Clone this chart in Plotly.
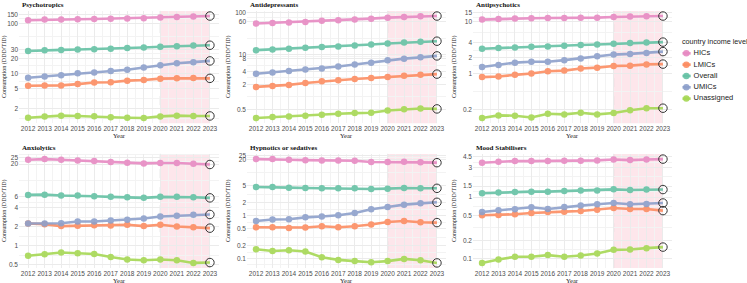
import math
import plotly.graph_objects as go

years = list(range(2012, 2024))
groups = ["HICs", "LMICs", "Overall", "UMICs", "Unassigned"]
colors = {"HICs": "#E78AC3", "LMICs": "#FC8D62", "Overall": "#66C2A5",
          "UMICs": "#8DA0CB", "Unassigned": "#A6D854"}

panel_titles = ["Psychotropics", "Antidepressants", "Antipsychotics",
                "Anxiolytics", "Hypnotics or sedatives", "Mood Stabilisers"]

psychotropics = {
    "HICs": [115, 118, 119, 120, 121, 123, 124, 126, 130, 133, 136, 139],
    "LMICs": [5.7, 5.75, 5.8, 6.15, 6.6, 6.7, 7.2, 7.4, 7.9, 8.0, 8.1, 8.0],
    "Overall": [28, 29, 29.5, 30, 30.5, 31, 32, 33, 34, 35, 36, 36.5],
    "UMICs": [8.2, 8.7, 9.2, 10.1, 10.5, 11.2, 11.9, 13.2, 14.6, 16.0, 16.8, 17.8],
    "Unassigned": [1.32, 1.4, 1.45, 1.43, 1.41, 1.35, 1.32, 1.3, 1.4, 1.45, 1.43, 1.43],
}
antidepressants = {
    "HICs": [55, 57, 58, 60, 64, 66, 68.5, 72, 76, 79, 82, 83],
    "LMICs": [1.73, 1.83, 1.93, 2.15, 2.35, 2.48, 2.67, 2.81, 2.97, 3.2, 3.38, 3.48],
    "Overall": [12.9, 13.4, 13.9, 14.6, 15.2, 15.7, 16.6, 17.5, 18.5, 19.5, 20.5, 21],
    "UMICs": [3.56, 3.82, 4.1, 4.5, 4.73, 5.27, 5.87, 6.5, 7.4, 8.1, 8.7, 9.4],
    "Unassigned": [0.316, 0.333, 0.344, 0.358, 0.378, 0.398, 0.414, 0.42, 0.477, 0.513, 0.53, 0.52],
}
antipsychotics = {
    "HICs": [11.0, 11.3, 11.5, 11.7, 11.8, 11.8, 12.0, 12.0, 12.4, 12.6, 12.8, 12.9],
    "LMICs": [0.845, 0.87, 0.935, 0.99, 1.1, 1.13, 1.24, 1.29, 1.39, 1.41, 1.49, 1.51],
    "Overall": [3.0, 3.1, 3.18, 3.28, 3.33, 3.43, 3.54, 3.63, 3.74, 3.86, 3.97, 4.03],
    "UMICs": [1.33, 1.45, 1.61, 1.68, 1.68, 1.8, 1.94, 2.15, 2.31, 2.38, 2.49, 2.64],
    "Unassigned": [0.136, 0.153, 0.151, 0.139, 0.165, 0.16, 0.172, 0.16, 0.17, 0.193, 0.211, 0.211],
}
anxiolytics = {
    "HICs": [23.4, 24.0, 23.4, 22.9, 22.4, 21.5, 21.0, 20.5, 20.8, 20.8, 20.2, 19.7],
    "LMICs": [2.26, 2.2, 2.05, 2.08, 2.12, 2.1, 2.15, 2.05, 2.15, 2.02, 1.97, 1.9],
    "Overall": [6.45, 6.5, 6.3, 6.3, 6.13, 6.0, 5.9, 5.78, 6.0, 6.0, 5.9, 5.78],
    "UMICs": [2.26, 2.26, 2.28, 2.43, 2.43, 2.52, 2.59, 2.71, 2.92, 2.99, 3.1, 3.14],
    "Unassigned": [0.69, 0.73, 0.775, 0.755, 0.735, 0.66, 0.6, 0.585, 0.6, 0.585, 0.53, 0.537],
}
hypnotics = {
    "HICs": [20.7, 20.7, 20.0, 19.6, 19.3, 19.3, 19.0, 17.7, 17.7, 18.0, 17.4, 17.1],
    "LMICs": [0.535, 0.535, 0.515, 0.526, 0.564, 0.535, 0.564, 0.618, 0.71, 0.75, 0.7, 0.687],
    "Overall": [4.62, 4.62, 4.48, 4.39, 4.32, 4.32, 4.32, 4.16, 4.24, 4.39, 4.32, 4.32],
    "UMICs": [0.75, 0.81, 0.82, 0.91, 0.95, 1.02, 1.15, 1.4, 1.58, 1.8, 1.93, 2.04],
    "Unassigned": [0.164, 0.15, 0.156, 0.146, 0.107, 0.093, 0.087, 0.082, 0.087, 0.098, 0.091, 0.079],
}
mood_stabilisers = {
    "HICs": [3.59, 3.72, 3.81, 3.81, 3.81, 3.86, 3.86, 3.91, 4.05, 3.95, 4.05, 4.1],
    "LMICs": [0.507, 0.513, 0.526, 0.552, 0.573, 0.58, 0.594, 0.625, 0.665, 0.64, 0.64, 0.603],
    "Overall": [1.15, 1.18, 1.2, 1.22, 1.22, 1.25, 1.27, 1.28, 1.33, 1.3, 1.32, 1.32],
    "UMICs": [0.573, 0.61, 0.634, 0.683, 0.64, 0.69, 0.726, 0.762, 0.8, 0.762, 0.771, 0.8],
    "Unassigned": [0.086, 0.098, 0.108, 0.108, 0.115, 0.108, 0.113, 0.122, 0.14, 0.142, 0.149, 0.155],
}

tick_sets = [
    [2, 5, 10, 20, 30, 100, 150],
    [0.5, 2, 4, 8, 10, 60, 100],
    [0.2, 1, 2, 4, 10, 15],
    [0.5, 1, 2, 4, 6, 20, 25],
    [0.1, 0.2, 0.5, 1, 2, 5, 20, 25],
    [0.1, 0.2, 0.5, 1, 1.5, 3, 4.5],
]
shade_start, shade_end = 2020, 2023

panels = [psychotropics, antidepressants, antipsychotics,
          anxiolytics, hypnotics, mood_stabilisers]

W, H = 747, 283
col_px = [(19, 219), (247, 446), (473, 672)]
ytitle_px = [4, 228, 454]
row_px = [(9, 122), (153, 268)]

fig = go.Figure()
sans = "Liberation Sans, Arial, sans-serif"
serif = "Liberation Serif, Times New Roman, serif"
grid = "#EBEBEB"
tickfont = dict(family=sans, size=6.5, color="#4D4D4D")

for i, (data, title, ticks) in enumerate(zip(panels, panel_titles, tick_sets)):
    r, c = divmod(i, 3)
    n = i + 1
    xa = "xaxis" if n == 1 else f"xaxis{n}"
    ya = "yaxis" if n == 1 else f"yaxis{n}"
    xr = "x" if n == 1 else f"x{n}"
    yr = "y" if n == 1 else f"y{n}"
    x0p, x1p = col_px[c]
    y0p, y1p = row_px[r]
    xdom = [x0p / W, x1p / W]
    ydom = [1 - y1p / H, 1 - y0p / H]

    allv = [v for g in groups for v in data[g]]
    lo, hi = math.log10(min(allv)), math.log10(max(allv))
    pad = (hi - lo) * 0.05
    yrange = [lo - pad, hi + pad]

    lt = [math.log10(t) for t in ticks]
    minor = [10 ** ((a + b) / 2) for a, b in zip(lt[:-1], lt[1:])]
    minor = [10 ** (lt[0] - (lt[1] - lt[0]) / 2)] + minor + [10 ** (lt[-1] + (lt[-1] - lt[-2]) / 2)]

    fig.add_shape(type="rect", xref=xr, yref=f"{yr} domain", x0=shade_start, x1=shade_end,
                  y0=0, y1=1, fillcolor="rgba(252,205,215,0.5)", line_width=0, layer="below")
    fig.add_shape(type="line", xref=xr, yref=f"{yr} domain", x0=shade_start, x1=shade_start,
                  y0=0, y1=1, line=dict(color="#C8C8C8", width=1, dash="dash"), layer="below")

    for g in groups:
        mcol = [colors[g]] * (len(years) - 1) + ["rgba(0,0,0,0)"]
        fig.add_trace(go.Scatter(
            x=years, y=data[g], mode="lines+markers", name=g,
            line=dict(color=colors[g], width=2.6), opacity=0.9,
            marker=dict(color=mcol, size=6.5),
            xaxis=xr, yaxis=yr, showlegend=False))
    fig.add_trace(go.Scatter(
        x=[years[-1]] * len(groups), y=[data[g][-1] for g in groups], mode="markers",
        marker=dict(symbol="circle-open", size=8.5, color="#333333", line=dict(width=1)),
        xaxis=xr, yaxis=yr, showlegend=False, hoverinfo="skip"))

    fig.layout[xa] = dict(domain=xdom, anchor=yr, range=[2011.45, 2023.55],
                          tickvals=years, ticktext=[str(y) for y in years], tickangle=0,
                          tickfont=tickfont,
                          showgrid=True, gridcolor=grid, gridwidth=0.8, zeroline=False,
                          showline=False, ticks="", ticklen=0,
                          minor=dict(tickvals=[y + 0.5 for y in range(2011, 2024)],
                                     showgrid=True, gridcolor="#F3F3F3", gridwidth=0.5))
    fig.layout[ya] = dict(domain=ydom, anchor=xr, type="log", range=yrange,
                          tickvals=ticks, ticktext=[f"{t:g}" for t in ticks],
                          tickfont=tickfont,
                          showgrid=True, gridcolor=grid, gridwidth=0.8, zeroline=False,
                          showline=False, ticks="", ticklen=0,
                          minor=dict(tickvals=minor, showgrid=True, gridcolor="#F3F3F3", gridwidth=0.5))

    fig.add_annotation(text=f"<b>{title}</b>", xref="paper", yref="paper",
                       x=(x0p + 1) / W, y=1 - (y0p - 6) / H, xanchor="left", yanchor="middle",
                       showarrow=False, font=dict(family=serif, size=7, color="#111111"))
    fig.add_annotation(text="Year", xref="paper", yref="paper",
                       x=(x0p + x1p) / 2 / W, y=1 - (y1p + 12) / H, xanchor="center", yanchor="middle",
                       showarrow=False, font=dict(family=serif, size=6.5, color="#222222"))
    fig.add_annotation(text="Consumption (DDD/TID)", xref="paper", yref="paper", textangle=-90,
                       x=ytitle_px[c] / W, y=1 - (y0p + y1p) / 2 / H, xanchor="center", yanchor="middle",
                       showarrow=False, font=dict(family=serif, size=6, color="#222222"))

# legend drawn on a helper axis
legend_y = list(range(len(groups)))
for k, g in enumerate(groups):
    fig.add_trace(go.Scatter(x=[0.15, 1.0], y=[legend_y[k]] * 2, mode="lines",
                             line=dict(color=colors[g], width=2.6), opacity=0.9,
                             xaxis="x7", yaxis="y7", showlegend=False, hoverinfo="skip"))
    fig.add_trace(go.Scatter(x=[0.55], y=[legend_y[k]], mode="markers",
                             marker=dict(color=colors[g], size=6.5), opacity=0.9,
                             xaxis="x7", yaxis="y7", showlegend=False, hoverinfo="skip"))
fig.add_trace(go.Scatter(x=[1.3] * len(groups), y=legend_y, mode="text", text=groups,
                         textposition="middle right",
                         textfont=dict(family=sans, size=7.5, color="#222222"),
                         xaxis="x7", yaxis="y7", showlegend=False, hoverinfo="skip"))
fig.add_annotation(text="country income level", xref="paper", yref="paper",
                   x=680 / W, y=1 - 40 / H, xanchor="left", yanchor="middle", showarrow=False,
                   font=dict(family=sans, size=7.2, color="#222222"))

fig.update_layout(
    width=W, height=H, margin=dict(l=0, r=0, t=0, b=0),
    paper_bgcolor="white", plot_bgcolor="white", showlegend=False,
    xaxis7=dict(domain=[681 / W, 745 / W], range=[0, 6.6], anchor="y7", visible=False),
    yaxis7=dict(domain=[1 - 103 / H, 1 - 46 / H], range=[4.5, -0.5], anchor="x7", visible=False),
)
fig.write_html("out.html")
